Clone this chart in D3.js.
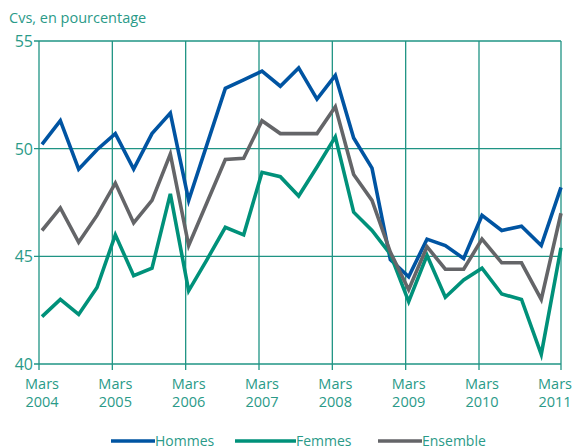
<!DOCTYPE html>
<html>
<head>
<meta charset="utf-8">
<script src="https://cdn.jsdelivr.net/npm/d3@7/dist/d3.min.js"></script>
<style>
  body { margin: 0; background: #fff; }
  svg text { font-family: "Open Sans", "Noto Sans", sans-serif; fill: #2a9a88; }
</style>
</head>
<body>
<div id="chart"></div>
<script>
// trimestres de mars 2004 à mars 2011
var years = ['2004', '2005', '2006', '2007', '2008', '2009', '2010', '2011'];

var hommes = [50.2, 51.3, 49.05, 49.95, 50.7, 49.05, 50.7, 51.65, 47.6, 50.2,
  52.8, 53.2, 53.6, 52.9, 53.75, 52.3, 53.4, 50.5, 49.1, 44.85,
  44.05, 45.8, 45.5, 44.9, 46.9, 46.2, 46.4, 45.5, 48.2];

var femmes = [42.2, 43.0, 42.3, 43.55, 46.0, 44.1, 44.45, 47.9, 43.4, 44.85,
  46.35, 46.0, 48.9, 48.7, 47.8, 49.15, 50.55, 47.05, 46.2, 45.1,
  42.9, 45.05, 43.1, 43.9, 44.45, 43.25, 43.0, 40.45, 45.4];

var ensemble = [46.2, 47.25, 45.65, 46.9, 48.4, 46.55, 47.6, 49.75, 45.5, 47.5,
  49.5, 49.55, 51.3, 50.7, 50.7, 50.7, 51.95, 48.8, 47.6, 45.2,
  43.45, 45.45, 44.4, 44.4, 45.8, 44.7, 44.7, 43.0, 47.0];

var yTicks = [40, 45, 50, 55];

var series = [
  { name: 'Hommes', values: hommes, color: '#0054a2' },
  { name: 'Femmes', values: femmes, color: '#00917a' },
  { name: 'Ensemble', values: ensemble, color: '#646568' }
];

var width = 574,
  height = 448,
  plotLeft = 39,
  plotRight = 561,
  plotTop = 41,
  plotBottom = 364,
  gridColor = '#1f9484';

var svg = d3.select('#chart').append('svg')
  .attr('width', width)
  .attr('height', height);

// l'échelle n'est pas tout à fait régulière sur la dernière année
var x = d3.scaleLinear()
  .domain([0, 24, 28])
  .range([42, 482, plotRight]);

var y = d3.scaleLinear()
  .domain([40, 55])
  .range([plotBottom, plotTop]);

svg.append('text')
  .attr('x', 9)
  .attr('y', 23)
  .attr('font-size', 14.5)
  .text('Cvs, en pourcentage');

// grille horizontale
svg.selectAll('.hgrid')
  .data(yTicks)
  .enter()
  .append('line')
  .attr('x1', plotLeft - 5)
  .attr('x2', plotRight)
  .attr('y1', function (d) { return y(d); })
  .attr('y2', function (d) { return y(d); })
  .attr('stroke', gridColor)
  .attr('stroke-width', 1.3);

svg.selectAll('.ylab')
  .data(yTicks)
  .enter()
  .append('text')
  .attr('x', plotLeft - 6)
  .attr('y', function (d) { return y(d) + 6; })
  .attr('text-anchor', 'end')
  .attr('font-size', 16)
  .text(function (d) { return d; });

// grille verticale, une ligne par mois de mars
var gridX = years.map(function (yr, i) {
  return i === 0 ? plotLeft : (i === years.length - 1 ? plotRight : x(i * 4) - 3);
});

svg.selectAll('.vgrid')
  .data(gridX)
  .enter()
  .append('line')
  .attr('x1', function (d) { return d; })
  .attr('x2', function (d) { return d; })
  .attr('y1', plotTop)
  .attr('y2', plotBottom + 6)
  .attr('stroke', gridColor)
  .attr('stroke-width', 1.3);

var xlab = svg.selectAll('.xlab')
  .data(years)
  .enter()
  .append('text')
  .attr('text-anchor', 'middle')
  .attr('font-size', 14.5)
  .attr('transform', function (d, i) {
    var cx = i === years.length - 1 ? 555 : x(i * 4);
    return 'translate(' + cx + ',0)';
  });

xlab.append('tspan').attr('x', 0).attr('y', 389).text('Mars');
xlab.append('tspan').attr('x', 0).attr('y', 407).text(function (d) { return d; });

var line = d3.line()
  .x(function (d, i) { return x(i); })
  .y(function (d) { return y(d); });

svg.selectAll('.serie')
  .data(series)
  .enter()
  .append('path')
  .attr('d', function (d) { return line(d.values); })
  .attr('fill', 'none')
  .attr('stroke', function (d) { return d.color; })
  .attr('stroke-width', 3.6)
  .attr('stroke-linejoin', 'miter');

// légende
var legendPos = [
  { lx: 111, tx: 155 },
  { lx: 235, tx: 296 },
  { lx: 378, tx: 422 }
];

var legend = svg.selectAll('.legend')
  .data(series)
  .enter()
  .append('g');

legend.append('line')
  .attr('x1', function (d, i) { return legendPos[i].lx; })
  .attr('x2', function (d, i) { return legendPos[i].tx; })
  .attr('y1', 441)
  .attr('y2', 441)
  .attr('stroke', function (d) { return d.color; })
  .attr('stroke-width', 3.6);

legend.append('text')
  .attr('x', function (d, i) { return legendPos[i].tx; })
  .attr('y', 446)
  .attr('font-size', 14)
  .text(function (d) { return d.name; });
</script>
</body>
</html>
